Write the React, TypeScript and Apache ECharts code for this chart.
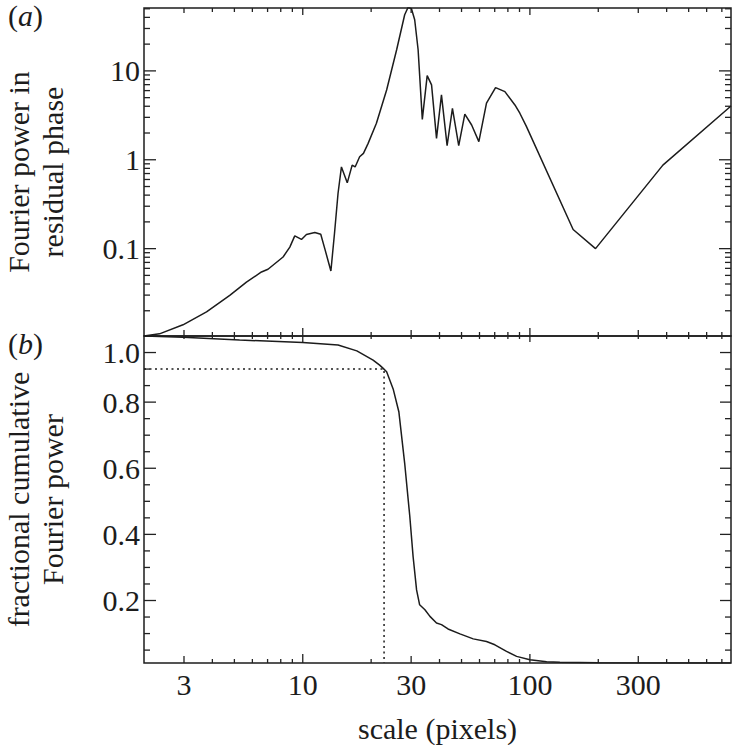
import React, { useEffect, useRef } from "react";
import * as echarts from "echarts";

// ---- data ----
const scaleA = [2.0, 2.34, 2.97, 3.77, 4.77, 5.65, 6.58, 7.03, 8.19, 8.77, 9.22, 9.87, 10.38, 11.3, 12.0, 12.5, 13.3, 13.8, 14.3, 14.8, 15.7, 16.5, 17.0, 17.8, 18.5, 19.4, 21.1, 23.4, 25.9, 28.1, 29.1, 30.1, 31.1, 32.2, 33.6, 35.3, 36.9, 38.8, 40.8, 43.2, 45.6, 48.6, 51.7, 55.4, 59.6, 64.4, 70.6, 77.6, 85.9, 90.3, 96.6, 155, 194.5, 385, 768];
const powerA = [0.0104, 0.011, 0.0139, 0.0194, 0.0298, 0.042, 0.0546, 0.0586, 0.0805, 0.104, 0.139, 0.127, 0.144, 0.152, 0.145, 0.1, 0.056, 0.15, 0.42, 0.83, 0.55, 0.87, 0.83, 1.08, 1.18, 1.53, 2.57, 6.1, 17.3, 42.8, 52, 50, 37.6, 17.3, 2.85, 8.85, 6.95, 1.74, 5.36, 1.44, 3.79, 1.44, 3.27, 2.46, 1.6, 4.33, 6.49, 5.85, 4.14, 3.34, 2.36, 0.164, 0.1, 0.87, 4.03];

const scaleB = [2.0, 2.97, 5.27, 10, 14.3, 17.3, 20.4, 21.8, 22.6, 23.4, 25.0, 26.5, 28.1, 29.6, 30.6, 31.7, 32.7, 34.5, 36.3, 38.8, 40.8, 43.6, 49.2, 56.3, 64.4, 70.1, 78.9, 87.4, 100, 118.5, 135.5, 200, 400, 768];
const cumulB = [1.0, 0.996, 0.988, 0.98, 0.973, 0.955, 0.927, 0.912, 0.902, 0.892, 0.84, 0.77, 0.615, 0.454, 0.333, 0.232, 0.187, 0.172, 0.152, 0.132, 0.127, 0.114, 0.099, 0.084, 0.076, 0.066, 0.046, 0.031, 0.021, 0.015, 0.013, 0.0115, 0.011, 0.011];

const markScale = 22.8;
const markLevel = 0.9;

// ---- ticks and labels ----
const xTickLabels = [3, 10, 30, 100, 300];
const xMajorTicks = [10, 100];
const xMidTicks = [3, 30, 300];
const xMinorTicks = [4, 5, 6, 7, 8, 9, 20, 40, 50, 60, 70, 80, 90, 200, 400, 500, 600, 700];
const yTopLabels = [0.1, 1, 10];
const yTopMinor = [0.02, 0.03, 0.04, 0.05, 0.06, 0.07, 0.08, 0.09, 0.2, 0.3, 0.4, 0.5, 0.6, 0.7, 0.8, 0.9, 2, 3, 4, 5, 6, 7, 8, 9, 20, 30, 40, 50];
const yBotLabels = [0.2, 0.4, 0.6, 0.8, 0.95];
const yBotLabelText = ["0.2", "0.4", "0.6", "0.8", "1.0"];
const yBotMinor = [0.05, 0.1, 0.15, 0.25, 0.3, 0.35, 0.45, 0.5, 0.55, 0.65, 0.7, 0.75, 0.85, 0.9];

const X_MIN = 2;
const X_MAX = 768;
const YA_MIN = 0.0104;
const YA_MAX = 51;
const YB_MIN = 0.011;
const YB_MAX = 1.0;

// grid layout
const G_LEFT = 144;
const G_WIDTH = 587;
const GA_TOP = 8;
const GA_HEIGHT = 328;
const GB_TOP = 336;
const GB_HEIGHT = 327;

const FONT = '"Liberation Serif", "Times New Roman", Times, serif';
const INK = "#1c1c1c";
const FS = 30;

function fmtNum(v: number) {
  return String(+(+v).toPrecision(6));
}

const labelStyle = { fontFamily: FONT, fontSize: FS, color: INK };

export default function App() {
  const ref = useRef<HTMLDivElement>(null);
  useEffect(() => {
    if (!ref.current) return;
    const chart = echarts.init(ref.current, null, { renderer: "svg" });
    const dataA = scaleA.map((s, i) => [s, powerA[i]]);
    const dataB = scaleB.map((s, i) => [s, cumulB[i]]);
    const dataMark = [
      [X_MIN, markLevel],
      [markScale, markLevel],
      [markScale, YB_MIN],
    ];
    const gridStyle = {
      show: true,
      borderColor: INK,
      borderWidth: 1.5,
      outerBoundsMode: "none",
    };
    const plainX = (grid: number, extra: any = {}) => ({
      type: "log",
      logBase: 10,
      gridIndex: grid,
      position: "bottom",
      min: X_MIN,
      max: X_MAX,
      axisLine: { show: false, onZero: false },
      axisTick: { show: false },
      axisLabel: { show: false },
      splitLine: { show: false },
      ...extra,
    });
    const richTitle = {
      p: { ...labelStyle, fontWeight: "normal" },
      i: { ...labelStyle, fontWeight: "normal", fontStyle: "italic" },
    };
    const option: any = {
      animation: false,
      title: [
        { text: "{p|(}{i|a}{p|)}", left: 8, top: 0, padding: 0, textStyle: { fontWeight: "normal", rich: richTitle } },
        { text: "{p|(}{i|b}{p|)}", left: 8, top: 328, padding: 0, textStyle: { fontWeight: "normal", rich: richTitle } },
      ],
      grid: [
        { left: G_LEFT, top: GA_TOP, width: G_WIDTH, height: GA_HEIGHT, ...gridStyle },
        { left: G_LEFT, top: GB_TOP, width: G_WIDTH, height: GB_HEIGHT, ...gridStyle },
      ],
      xAxis: [
        plainX(0),
        plainX(1, {
          axisLabel: {
            show: true,
            customValues: xTickLabels,
            margin: 6,
            formatter: (v: number) => fmtNum(v),
            ...labelStyle,
          },
          name: "scale (pixels)",
          nameLocation: "middle",
          nameGap: 50,
          nameTextStyle: { ...labelStyle },
        }),
      ],
      yAxis: [
        {
          type: "log",
          logBase: 10,
          gridIndex: 0,
          position: "left",
          min: YA_MIN,
          max: YA_MAX,
          axisLine: { show: false, onZero: false },
          axisTick: { show: false },
          splitLine: { show: false },
          axisLabel: {
            show: true,
            customValues: yTopLabels,
            margin: 4,
            formatter: (v: number) => fmtNum(v),
            ...labelStyle,
          },
          name: "Fourier power in\nresidual phase",
          nameLocation: "middle",
          nameRotate: 90,
          nameGap: 75,
          nameTextStyle: { ...labelStyle, lineHeight: 34 },
        },
        {
          type: "value",
          gridIndex: 1,
          position: "left",
          min: YB_MIN,
          max: YB_MAX,
          axisLine: { show: false, onZero: false },
          axisTick: { show: false },
          splitLine: { show: false },
          axisLabel: {
            show: true,
            customValues: yBotLabels,
            margin: 4,
            formatter: (v: number) => {
              const i = yBotLabels.findIndex((u) => Math.abs(u - v) < 1e-9);
              return i >= 0 ? yBotLabelText[i] : "";
            },
            ...labelStyle,
          },
          name: "fractional cumulative\nFourier power",
          nameLocation: "middle",
          nameRotate: 90,
          nameGap: 75,
          nameTextStyle: { ...labelStyle, lineHeight: 34 },
        },
      ],
      series: [
        {
          type: "line",
          xAxisIndex: 0,
          yAxisIndex: 0,
          data: dataA,
          showSymbol: false,
          symbol: "none",
          clip: true,
          lineStyle: { color: INK, width: 1.5 },
        },
        {
          type: "line",
          xAxisIndex: 1,
          yAxisIndex: 1,
          data: dataB,
          showSymbol: false,
          symbol: "none",
          clip: true,
          lineStyle: { color: INK, width: 1.5 },
        },
        {
          type: "line",
          xAxisIndex: 1,
          yAxisIndex: 1,
          data: dataMark,
          showSymbol: false,
          symbol: "none",
          clip: true,
          lineStyle: { color: INK, width: 1.5, type: [2, 3.5] },
        },
      ],
    };
    chart.setOption(option);

    // Axis scale mapping (same as the axes above) used as a fallback.
    const lg = (v: number) => Math.log(v) / Math.LN10;
    const manualX = (x: number) => G_LEFT + (G_WIDTH * (lg(x) - lg(X_MIN))) / (lg(X_MAX) - lg(X_MIN));
    const manualY = (g: number, y: number) =>
      g === 0
        ? GA_TOP + (GA_HEIGHT * (lg(YA_MAX) - lg(y))) / (lg(YA_MAX) - lg(YA_MIN))
        : GB_TOP + (GB_HEIGHT * (YB_MAX - y)) / (YB_MAX - YB_MIN);

    const elements: any[] = [];
    const tick = (x1: number, y1: number, x2: number, y2: number) => {
      if (![x1, y1, x2, y2].every((n) => isFinite(n))) return;
      elements.push({
        type: "line",
        shape: { x1, y1, x2, y2 },
        style: { stroke: "#222222", lineWidth: 1.3 },
      });
    };
    const toPx = (g: number, x: number, y: number): number[] => {
      let p: any = null;
      try {
        p = chart.convertToPixel({ gridIndex: g } as any, [x, y]);
      } catch (e) {
        p = null;
      }
      let px = p ? Number(p[0]) : NaN;
      let py = p ? Number(p[1]) : NaN;
      if (!isFinite(px)) px = manualX(x);
      if (!isFinite(py)) py = manualY(g, y);
      return [px, py];
    };
    const panel = (g: number, yMin: number, yMax: number, xSpec: any[], ySpec: any[]) => {
      const lb = toPx(g, X_MIN, yMin);
      const rt = toPx(g, X_MAX, yMax);
      const left = lb[0];
      const bottom = lb[1];
      const right = rt[0];
      const top = rt[1];
      for (let s = 0; s < xSpec.length; s++) {
        const vals: number[] = xSpec[s][0];
        const lenB: number = xSpec[s][1];
        const lenT: number = xSpec[s][2];
        for (let k = 0; k < vals.length; k++) {
          const px = toPx(g, vals[k], yMin)[0];
          if (lenB > 0) tick(px, bottom, px, bottom - lenB);
          if (lenT > 0) tick(px, top, px, top + lenT);
        }
      }
      for (let s = 0; s < ySpec.length; s++) {
        const vals: number[] = ySpec[s][0];
        const lenL: number = ySpec[s][1];
        const lenR: number = ySpec[s][2];
        for (let k = 0; k < vals.length; k++) {
          const py = toPx(g, X_MIN, vals[k])[1];
          if (lenL > 0) tick(left, py, left + lenL, py);
          if (lenR > 0) tick(right, py, right - lenR, py);
        }
      }
    };
    try {
      panel(0, YA_MIN, YA_MAX, [[xMajorTicks, 8, 7], [xMidTicks, 6, 5], [xMinorTicks, 4, 4]], [[yTopLabels, 12, 12], [yTopMinor, 6, 6]]);
    } catch (e) {
      /* keep going */
    }
    try {
      panel(1, YB_MIN, YB_MAX, [[xMajorTicks, 9, 6], [xMidTicks, 7, 3], [xMinorTicks, 4, 3]], [[yBotLabels, 12, 11], [yBotMinor, 6, 6]]);
    } catch (e) {
      /* keep going */
    }
    chart.setOption({ graphic: { elements } });

    return () => chart.dispose();
  }, []);
  return (
    <div
      ref={ref}
      style={{ position: "absolute", left: 0, top: 0, width: 733, height: 745, background: "#fff" }}
    />
  );
}
